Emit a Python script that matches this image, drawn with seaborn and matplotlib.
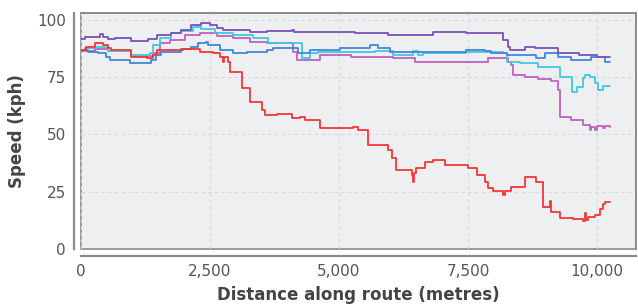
from __future__ import annotations

import matplotlib

matplotlib.use("Agg")
import matplotlib.pyplot as plt
import pandas as pd
import seaborn as sns
from matplotlib.ticker import FuncFormatter

# distance (m) where each step starts, speed (kph) for that step
purple_d = [0, 80, 140, 370, 430, 520, 660, 970, 1300, 1470, 1550, 1740, 1940, 2130, 2330,
            2500, 2640, 2750, 3280, 3600, 4090, 4130, 4590, 5310, 5950, 6820, 7460, 8180,
            8280, 8314, 8600, 8800, 9244, 9650, 10000, 10252]
purple_s = [91.5, 92.6, 92.6, 93.9, 92.6, 91.7, 92.0, 90.8, 91.7, 93.4, 93.4, 94.3, 95.6,
            97.8, 98.7, 97.8, 96.5, 95.6, 94.8, 95.2, 95.6, 94.8, 94.8, 94.3, 93.4, 94.8,
            94.3, 91.3, 88.0, 86.9, 88.2, 87.6, 85.6, 84.7, 84.0, 84.0]

cyan_d = [0, 80, 270, 520, 970, 1340, 1400, 1530, 1740, 1940, 2170, 2330, 2600, 2950,
          3330, 3620, 4280, 4440, 4600, 5020, 5700, 6050, 6430, 6530, 6630, 7460, 7730,
          8180, 8260, 8510, 8860, 9280, 9515, 9610, 9730, 9770, 9860, 9960, 10020, 10110,
          10252]
cyan_s = [86.9, 87.8, 88.2, 86.5, 84.7, 85.6, 89.0, 92.1, 94.3, 95.2, 96.9, 96.1, 94.3,
          93.4, 92.0, 90.0, 83.4, 85.6, 86.0, 86.0, 86.3, 84.7, 86.5, 84.7, 85.6, 86.0,
          86.0, 85.6, 81.7, 81.2, 79.5, 75.1, 68.6, 70.7, 74.7, 76.0, 75.0, 72.5, 69.4,
          71.2, 71.2]

blue_d = [0, 140, 330, 485, 560, 950, 1360, 1450, 1550, 1940, 2130, 2270, 2420, 2461,
          2694, 2946, 3217, 3605, 3721, 4205, 4438, 5019, 5601, 5756, 5988, 7461, 7830,
          7946, 8256, 8818, 8992, 9244, 9496, 9884, 10155, 10252]
blue_s = [86.9, 86.0, 85.6, 84.0, 82.5, 81.2, 82.5, 84.7, 86.0, 87.3, 88.2, 90.0, 90.4,
          89.0, 86.9, 85.6, 86.0, 86.9, 87.8, 85.6, 86.9, 87.8, 89.0, 87.8, 86.0, 86.9,
          86.5, 85.6, 84.7, 83.4, 85.6, 84.0, 82.5, 84.0, 81.7, 81.7]

magenta_d = [0, 270, 520, 970, 1400, 1530, 1725, 2016, 2306, 2636, 2946, 3275, 3605,
             4109, 4186, 4632, 5233, 6050, 6470, 7890, 8275, 8330, 8370, 8605, 8857,
             9109, 9244, 9283, 9496, 9728, 9864, 9884, 9961, 10000, 10116, 10155, 10252]
magenta_s = [86.5, 87.3, 86.5, 84.3, 85.6, 90.0, 91.3, 93.4, 94.3, 93.0, 92.0, 90.4,
             90.0, 86.0, 82.5, 84.7, 84.0, 83.4, 81.7, 83.4, 81.7, 80.3, 76.0, 75.1,
             74.2, 73.4, 69.4, 57.6, 56.3, 54.1, 52.0, 53.3, 52.0, 53.8, 52.8, 53.5, 53.3]

red_d = [0, 97, 270, 426, 523, 581, 969, 1279, 1395, 1473, 1980, 2306, 2558, 2694, 2750,
         2770, 2850, 2888, 3120, 3275, 3508, 3566, 3798, 4089, 4244, 4341, 4632, 5271,
         5368, 5562, 5950, 6030, 6105, 6410, 6434, 6460, 6500, 6667, 6822, 7054, 7500,
         7675, 7830, 7888, 7985, 8175, 8220, 8333, 8600, 8818, 8953, 9089, 9109, 9283,
         9535, 9728, 9767, 9790, 9826, 9864, 9961, 10058, 10116, 10155, 10252]
red_s = [86.9, 88.2, 90.0, 89.0, 87.8, 86.9, 84.0, 83.4, 84.7, 86.9, 87.3, 86.0, 85.6,
         84.0, 81.5, 84.0, 81.7, 77.3, 70.3, 64.2, 60.7, 58.5, 59.0, 57.2, 57.6, 56.3,
         52.8, 53.3, 52.0, 45.4, 43.2, 39.7, 34.5, 32.3, 29.3, 33.2, 35.4, 38.0, 38.9,
         36.7, 35.4, 32.3, 29.3, 26.6, 25.3, 23.6, 25.3, 27.1, 31.4, 29.3, 18.3, 21.0,
         16.2, 13.5, 12.9, 12.2, 15.7, 12.5, 13.8, 14.0, 14.8, 17.5, 19.5, 20.5, 20.5]

series = {
    "magenta": (magenta_d, magenta_s),
    "cyan": (cyan_d, cyan_s),
    "blue": (blue_d, blue_s),
    "red": (red_d, red_s),
    "purple": (purple_d, purple_s),
}
palette = {
    "magenta": "#BE5FC4",
    "cyan": "#45C6DE",
    "blue": "#3F86DC",
    "red": "#F63535",
    "purple": "#7A50BE",
}

x_ticks = [0, 2500, 5000, 7500, 10000]
y_ticks = [0, 25, 50, 75, 100]


def main() -> None:
    rows = []
    for name, (d, s) in series.items():
        for xv, yv in zip(d, s):
            rows.append({"series": name, "distance": xv, "speed": yv})
    df = pd.DataFrame(rows)

    sns.set_theme(style="white")
    plt.rcParams["font.family"] = ["DejaVu Sans"]

    fig = plt.figure(figsize=(6.38, 3.05), dpi=100)
    ax = fig.add_axes([0.127, 0.184, 0.870, 0.773])
    ax.set_facecolor("#EEEFF0")

    for name in series:
        sns.lineplot(data=df[df["series"] == name], x="distance", y="speed",
                     color=palette[name], drawstyle="steps-post", linewidth=1.3,
                     estimator=None, sort=False, legend=False, ax=ax)

    ax.set_xlim(0, 10756)
    ax.set_ylim(0, 103)
    ax.set_xticks(x_ticks)
    ax.set_yticks(y_ticks)
    ax.xaxis.set_major_formatter(FuncFormatter(lambda v, _: f"{int(v):,}"))

    ax.grid(True, color="#D6D7D9", linestyle=(0, (3, 3)), linewidth=0.8)
    ax.set_axisbelow(True)

    for side in ("top", "right"):
        ax.spines[side].set_color("#8A8A8A")
        ax.spines[side].set_linewidth(1.2)
    for side in ("left", "bottom"):
        ax.spines[side].set_position(("outward", 5))
        ax.spines[side].set_color("#8A8A8A")
        ax.spines[side].set_linewidth(1.6)
    ax.patch.set_edgecolor("#8A8A8A")
    ax.patch.set_linewidth(1.2)

    ax.tick_params(axis="both", direction="out", length=3, width=1, color="#8A8A8A",
                   labelsize=11, labelcolor="#555555", pad=3)
    ax.set_xlabel("Distance along route (metres)", fontsize=12, fontweight="bold",
                  color="#444444", labelpad=5)
    ax.set_ylabel("Speed (kph)", fontsize=12, fontweight="bold", color="#444444",
                  labelpad=8)

    fig.savefig("out.png", dpi=100)
    plt.close(fig)


if __name__ == "__main__":
    main()
